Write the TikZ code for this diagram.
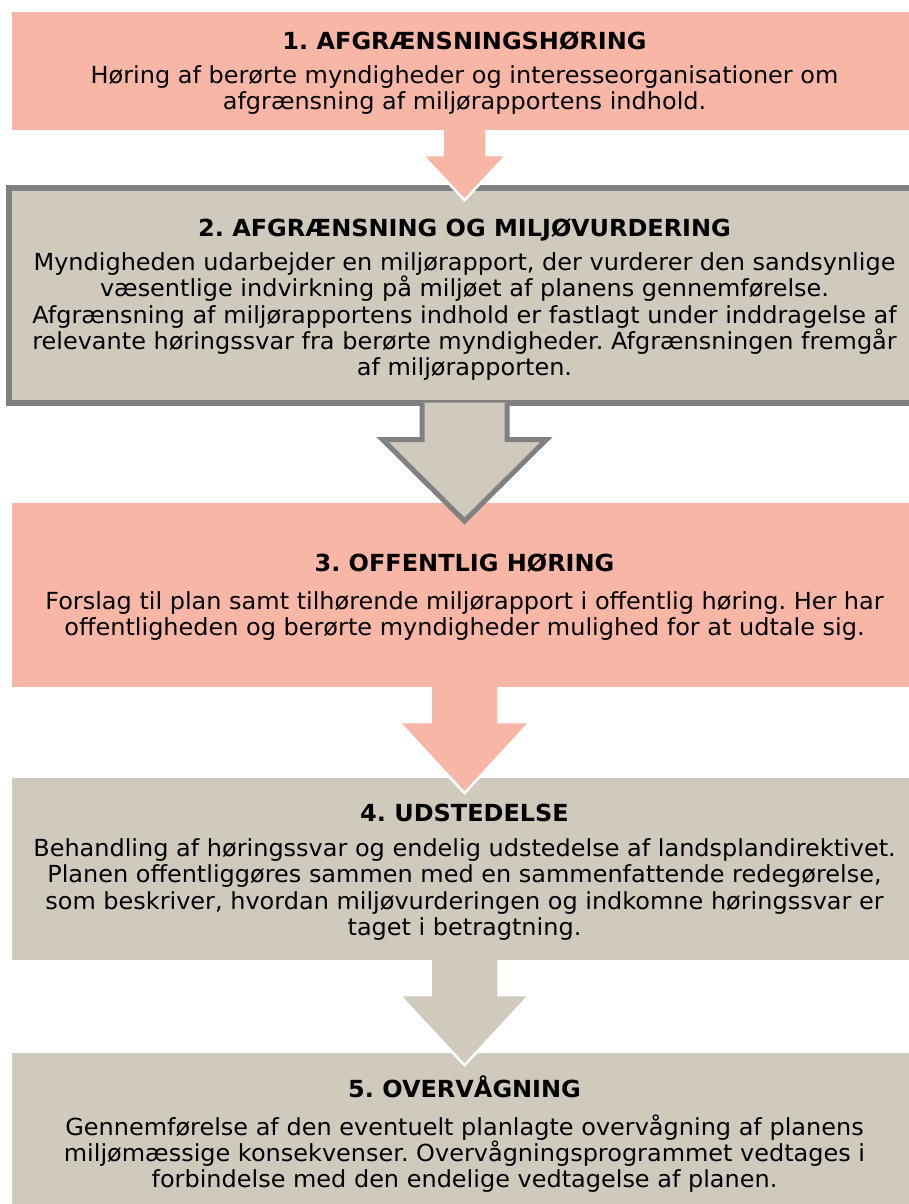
\documentclass[tikz,border=0pt]{standalone}
\usepackage{fontspec}
\setmainfont[FakeStretch=1.02]{DejaVu Sans}
\definecolor{boxsalmon}{HTML}{F8B6A6}
\definecolor{boxtan}{HTML}{D0C9BE}
\definecolor{bordergray}{HTML}{808080}
\begin{document}
\frenchspacing
\begin{tikzpicture}[x=1pt,y=-1pt,
  box/.style={minimum width=905pt, inner sep=0pt},
  pinkbox/.style={box, fill=boxsalmon},
  tanbox/.style={box, fill=boxtan},
  framedbox/.style={box, minimum width=911pt, fill=boxtan, draw=bordergray, line width=6pt},
  boxtext/.style={inner sep=0pt, align=center,
    font=\fontsize{23.5}{26.3}\selectfont, text=black},
  arrowfill/.style={line width=2.5pt, line join=miter},
]
\useasboundingbox (0,0) rectangle (909,1204);

% boxes
\node[pinkbox, minimum height=118pt] (b1) at (464.5,71) {};
\node[framedbox, minimum height=215pt] (b2) at (464.5,295.5) {};
\node[pinkbox, minimum height=184pt] (b3) at (464.5,595) {};
\node[tanbox, minimum height=182pt] (b4) at (464.5,869) {};
\node[tanbox, minimum height=158pt] (b5) at (464.5,1132) {};

% texts
\node[boxtext, yshift=-2pt] (t1) at (b1.center)
  {{\bfseries 1. AFGRÆNSNINGSHØRING}\\[7pt]
   Høring af berørte myndigheder og interesseorganisationer om\\
   afgrænsning af miljørapportens indhold.};

\node[boxtext, yshift=-4pt] (t2) at (b2.center)
  {{\bfseries 2. AFGRÆNSNING OG MILJØVURDERING}\\[8pt]
   Myndigheden udarbejder en miljørapport, der vurderer den sandsynlige\\
   væsentlige indvirkning på miljøet af planens gennemførelse.\\
   Afgrænsning af miljørapportens indhold er fastlagt under inddragelse af\\
   relevante høringssvar fra berørte myndigheder. Afgrænsningen fremgår\\
   af miljørapporten.};

\node[boxtext, yshift=-2pt] (t3) at (b3.center)
  {{\bfseries 3. OFFENTLIG HØRING}\\[12pt]
   Forslag til plan samt tilhørende miljørapport i offentlig høring. Her har\\
   offentligheden og berørte myndigheder mulighed for at udtale sig.};

\node[boxtext, yshift=-3pt] (t4) at (b4.center)
  {{\bfseries 4. UDSTEDELSE}\\[9pt]
   Behandling af høringssvar og endelig udstedelse af landsplandirektivet.\\
   Planen offentliggøres sammen med en sammenfattende redegørelse,\\
   som beskriver, hvordan miljøvurderingen og indkomne høringssvar er\\
   taget i betragtning.};

\node[boxtext, yshift=-2pt] (t5) at (b5.center)
  {{\bfseries 5. OVERVÅGNING}\\[12pt]
   Gennemførelse af den eventuelt planlagte overvågning af planens\\
   miljømæssige konsekvenser. Overvågningsprogrammet vedtages i\\
   forbindelse med den endelige vedtagelse af planen.};

% arrow 1 -> 2
\begin{scope}[shift={(b1.south)}]
  \fill[boxsalmon] (-22,0) -- (-22,25) -- (-42,25) -- (0,70) -- (42,25) -- (22,25) -- (22,0) -- cycle;
  \draw[white, arrowfill] (-22,0) -- (-22,25) -- (-42,25) -- (0,70) -- (42,25) -- (22,25) -- (22,0);
\end{scope}
% arrow 2 -> 3
\begin{scope}[shift={(b2.south)}]
  \fill[boxtan] (-42.5,-3.5) -- (-42.5,33.5) -- (-82,33.5) -- (0,115) -- (82,33.5) -- (42.5,33.5) -- (42.5,-3.5) -- cycle;
  \draw[bordergray, line width=5pt, line join=miter] (-42.5,-3) -- (-42.5,33.5) -- (-82,33.5) -- (0,115) -- (82,33.5) -- (42.5,33.5) -- (42.5,-3);
\end{scope}
% arrow 3 -> 4
\begin{scope}[shift={(b3.south)}]
  \fill[boxsalmon] (-34,0) -- (-34,35) -- (-65.5,35) -- (0,106) -- (65.5,35) -- (34,35) -- (34,0) -- cycle;
  \draw[white, arrowfill] (-34,0) -- (-34,35) -- (-65.5,35) -- (0,106) -- (65.5,35) -- (34,35) -- (34,0);
\end{scope}
% arrow 4 -> 5
\begin{scope}[shift={(b4.south)}]
  \fill[boxtan] (-34,0) -- (-34,35) -- (-65,35) -- (0,105) -- (65,35) -- (34,35) -- (34,0) -- cycle;
  \draw[white, arrowfill] (-34,0) -- (-34,35) -- (-65,35) -- (0,105) -- (65,35) -- (34,35) -- (34,0);
\end{scope}
\end{tikzpicture}
\end{document}
